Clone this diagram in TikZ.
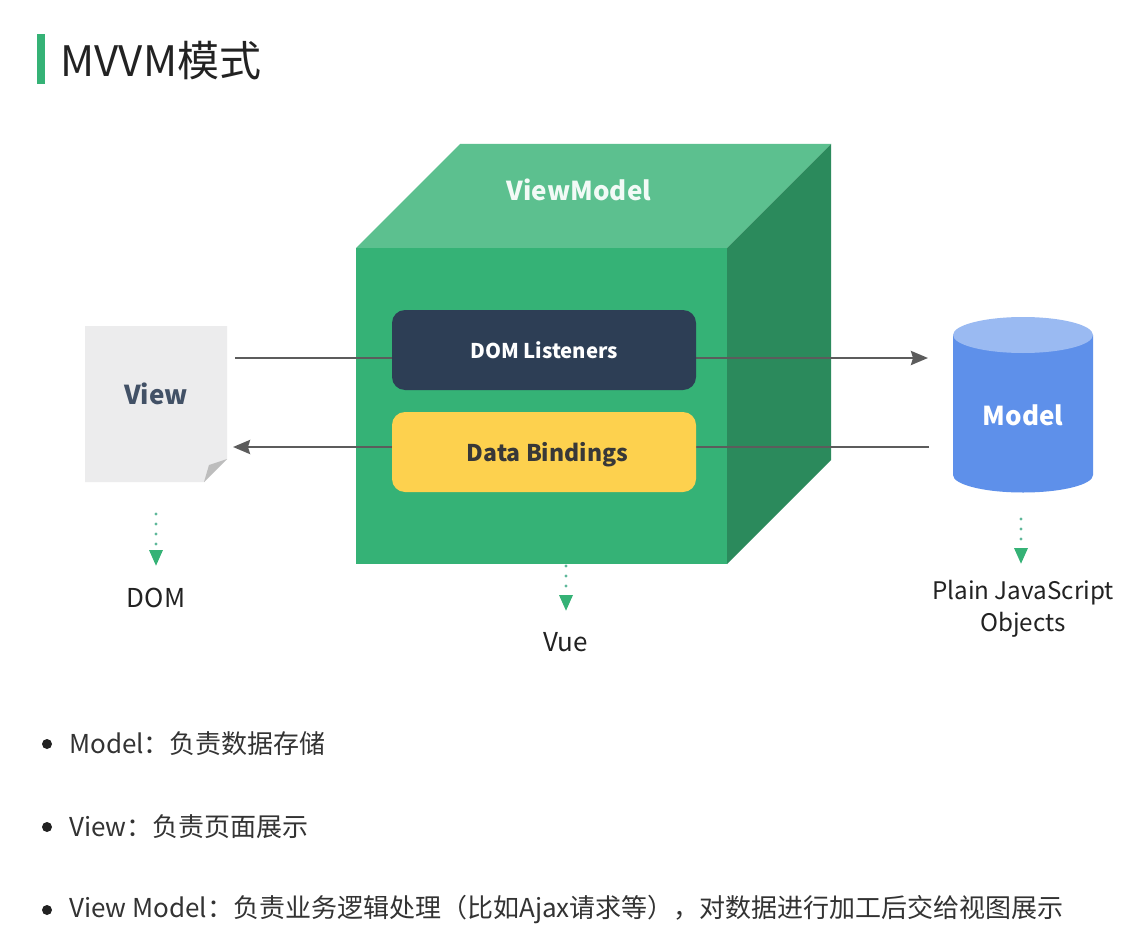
\documentclass[tikz,border=0pt]{standalone}
\usepackage{fontspec}
\setmainfont{Noto Sans CJK SC}
\usetikzlibrary{arrows.meta,calc}
\definecolor{cubefront}{HTML}{35B276}
\definecolor{cubetop}{HTML}{5CC08F}
\definecolor{cubeside}{HTML}{2B8A5C}
\definecolor{navy}{HTML}{2D3E55}
\definecolor{amber}{HTML}{FDD14E}
\definecolor{page}{HTML}{ECECED}
\definecolor{foldgrey}{HTML}{BDBDBD}
\definecolor{cylbody}{HTML}{5E90EA}
\definecolor{cyltop}{HTML}{9ABAF2}
\definecolor{linegrey}{HTML}{5C5C5C}
\definecolor{dotgreen}{HTML}{5FB89A}
\definecolor{tipgreen}{HTML}{35B276}
\definecolor{ink}{HTML}{222222}
\definecolor{body}{HTML}{333333}
\tikzset{
  flow/.style={draw=linegrey,line width=2.6pt,-{Stealth[length=17pt,width=14pt,inset=2pt]}},
  dotflow/.style={draw=dotgreen,line width=3.2pt,line cap=round,dash pattern=on 0pt off 10pt,
    -{Triangle[length=16pt,width=13pt,color=tipgreen]}},
  panel/.style={rounded corners=13pt,minimum width=304pt,minimum height=80pt,inner sep=0pt},
  label/.style={inner sep=0pt,font=\fontsize{26}{30}\selectfont,text=ink,align=center},
  heavy/.style={inner sep=0pt,font=\fontsize{26}{30}\selectfont\bfseries},
  item/.style={inner sep=0pt,anchor=west,font=\fontsize{26}{30}\selectfont,text=body},
  bullet/.style={circle,fill=ink,inner sep=0pt,minimum size=10pt}
}
\begin{document}
\begin{tikzpicture}[x=1pt,y=-1pt]
\useasboundingbox (0,0) rectangle (1124,939);
\fill[white] (0,0) rectangle (1124,939);

% title
\fill[tipgreen] (37,34) rectangle (45,84);
\node[inner sep=0pt,anchor=west,text=ink,font=\fontsize{42}{48}\selectfont] (title) at (60,61) {MVVM模式};

% cube
\fill[cubetop] (356,248) -- (460,144) -- (831,144) -- (727,248) -- cycle;
\fill[cubeside] (727,248) -- (831,144) -- (831,460) -- (727,564) -- cycle;
\fill[cubefront] (356,248) rectangle (727,564);
\node[heavy,text=white!92!cubetop] (vm) at (579,190) {ViewModel};

% view page
\fill[page] (85,326) -- (227,326) -- (227,459) -- (204,482) -- (85,482) -- cycle;
\fill[foldgrey] (227,459) -- (204,482) -- (209,465) -- cycle;
\node[heavy,text=navy!90!white] (view) at (156,394) {View};

% cylinder
\fill[cylbody] (953,335) -- (953,475) arc[start angle=180,end angle=360,x radius=70,y radius=-17.5]
  -- (1093,335) -- cycle;
\fill[cyltop] (1023,335) ellipse[x radius=70,y radius=18];
\node[heavy,text=white] (model) at (1023,415) {Model};

% connectors behind the panels
\coordinate (viewout) at (235,358);
\coordinate (modelin) at (928,358);
\coordinate (modelout) at (929,447);
\coordinate (viewin) at (233,447);
\draw[flow] (viewout) -- (modelin);
\draw[flow] (modelout) -- (viewin);

% panels
\node[panel,fill=navy,text=white,font=\fontsize{20.3}{25}\selectfont\bfseries] (listen) at (544,350) {\raisebox{-8.5pt}[0pt][0pt]{DOM Listeners}};
\node[panel,fill=amber,text=ink!90!white,font=\fontsize{23}{28}\selectfont\bfseries] (bind) at (544,452) {\hspace{7pt}\raisebox{-9pt}[0pt][0pt]{Data Bindings}};

% tech labels
\node[label] (dom) at (156,598) {DOM};
\node[label] (vue) at (566,642) {Vue};
\node[label,font=\fontsize{24.2}{32}\selectfont] (plain) at (1023,609) {Plain JavaScript\\Objects};

\coordinate (domfrom) at (156,514);
\coordinate (domto) at (156,566);
\coordinate (vuefrom) at (566,566);
\coordinate (vueto) at (566,611);
\coordinate (plainfrom) at (1021,519);
\coordinate (plainto) at (1021,564);
\draw[dotflow] (domfrom) -- (domto);
\draw[dotflow] (vuefrom) -- (vueto);
\draw[dotflow] (plainfrom) -- (plainto);

% list
\node[bullet] (b1) at (47,744) {};
\node[bullet] (b2) at (47,827) {};
\node[bullet] (b3) at (47,910) {};
\node[item] (t1) at (69,744) {Model：负责数据存储};
\node[item] (t2) at (69,827) {View：负责页面展示};
\node[item] (t3) at (69,910) {View Model：负责业务逻辑处理（比如Ajax请求等），对数据进行加工后交给视图展示};
\end{tikzpicture}
\end{document}
